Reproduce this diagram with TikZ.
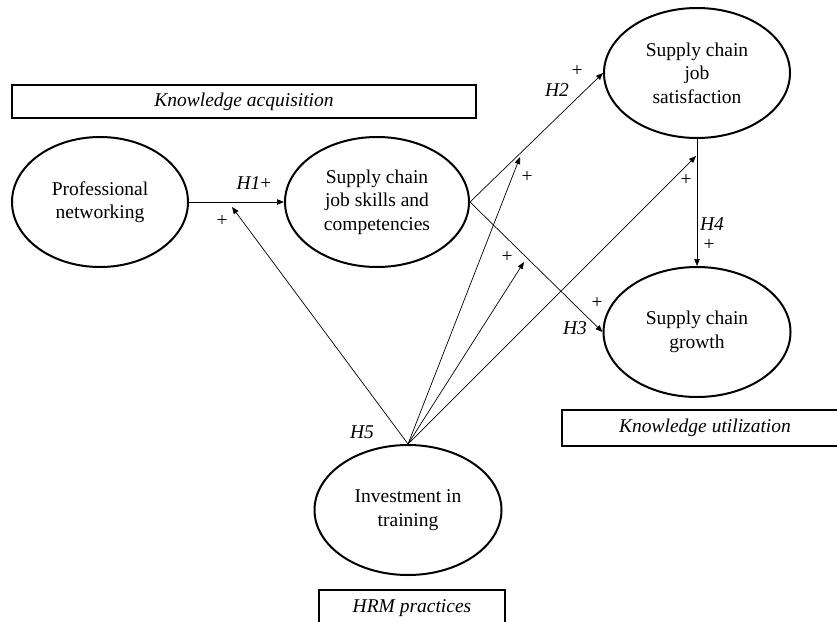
\documentclass[tikz,border=0pt]{standalone}
\usepackage{fontspec}
\setmainfont{Liberation Serif}
\usetikzlibrary{arrows.meta,shapes.geometric}
\newcommand{\diagsize}{\fontsize{19.5}{23.5}\selectfont}

\begin{document}
\begin{tikzpicture}[x=1pt, y=-1pt, font=\diagsize,
    construct/.style={ellipse, draw, line width=2pt, inner sep=0pt,
      align=center, minimum height=130pt},
    areabox/.style={draw, line width=1.3pt, inner sep=0pt, font=\diagsize\itshape},
    hyp/.style={-{Triangle[length=7pt,width=5.5pt]}, line width=0.7pt},
    sign/.style={inner sep=0pt}]
  \useasboundingbox (0,0) rectangle (837,621);
  \clip (0,0) rectangle (837,621);

  \node[areabox, minimum width=464pt, minimum height=33pt] (kacq) at (244,101.5)
    {Knowledge acquisition};
  \node[areabox, minimum width=286pt, minimum height=36pt] (kuse) at (705,428)
    {Knowledge utilization};
  \node[areabox, minimum width=186pt, minimum height=36pt] (hrm) at (412,608)
    {HRM practices};

  \node[construct, minimum width=176pt] (prof) at (100,202) {Professional\\networking};
  \node[construct, minimum width=184pt] (skills) at (377,202)
    {Supply chain\\job skills and\\competencies};
  \node[construct, minimum width=186pt] (satis) at (697,73)
    {Supply chain\\job\\satisfaction};
  \node[construct, minimum width=187pt] (growth) at (697,332) {Supply chain\\growth};
  \node[construct, minimum width=187pt] (invest) at (408,510) {Investment in\\training};

  \coordinate (onH1) at (232,207);
  \coordinate (onH2) at (520,157);
  \coordinate (nearH3) at (524,262);
  \coordinate (onH4) at (696,156);

  \draw[hyp] (prof.east) -- (skills.west);
  \draw[hyp] (skills.east) -- (satis.west);
  \draw[hyp] (skills.east) -- (growth.west);
  \draw[hyp] (satis.south) -- (growth.north);
  \foreach \t in {onH1,onH2,nearH3,onH4}
    \draw[hyp] (invest.north) -- (\t);

  \node[sign] (h1) at (254,183) {\textit{H1}+};
  \node[sign] (p1) at (222,221) {+};
  \node[sign] (h2) at (557,90) {\textit{H2}};
  \node[sign] (p2) at (577,71) {+};
  \node[sign] (p2m) at (527,177) {+};
  \node[sign] (p3m) at (507,257) {+};
  \node[sign] (h3) at (575,328) {\textit{H3}};
  \node[sign] (p3) at (597,303) {+};
  \node[sign] (p4m) at (686,180) {+};
  \node[sign] (h4) at (712,224) {\textit{H4}};
  \node[sign] (p4) at (709,245) {+};
  \node[sign] (h5) at (362,432) {\textit{H5}};
\end{tikzpicture}
\end{document}
